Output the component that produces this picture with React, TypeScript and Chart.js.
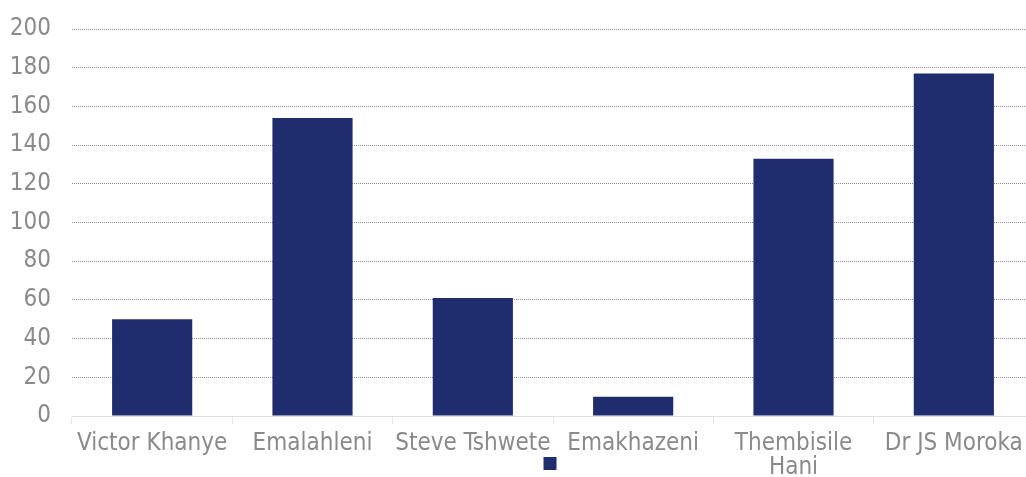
import React, { useEffect, useRef } from "react";
import { Chart, registerables } from "chart.js";

Chart.register(...registerables);

const categories: (string | string[])[] = [
  "Victor Khanye",
  "Emalahleni",
  "Steve Tshwete",
  "Emakhazeni",
  ["Thembisile", "Hani"],
  "Dr JS Moroka",
];
const values: number[] = [50, 154, 61, 10, 133, 177];
const yTicks: number[] = [0, 20, 40, 60, 80, 100, 120, 140, 160, 180, 200];
const seriesLabel = "";

const BAR = "#1F2D6E";
const TEXT = "#8A8A8A";
const FONT = "DejaVu Sans Condensed";
const FS = 24;

export default function App() {
  const ref = useRef<HTMLCanvasElement | null>(null);
  useEffect(() => {
    if (!ref.current) return;
    const chart = new Chart(ref.current, {
      type: "bar",
      data: {
        labels: categories,
        datasets: [
          {
            label: seriesLabel,
            data: values,
            backgroundColor: BAR,
            borderWidth: 0,
            barPercentage: 0.5,
            categoryPercentage: 1,
          },
        ],
      },
      plugins: [
        {
          id: "extendXLabels",
          afterLayout: (c: any) => {
            c.scales.x.bottom = c.height;
          },
        },
      ],
      options: {
        animation: false,
        responsive: false,
        maintainAspectRatio: false,
        layout: { padding: { top: 29, left: 11.2, right: 0, bottom: -3 } },
        plugins: {
          tooltip: { enabled: false },
          legend: {
            position: "bottom",
            fullSize: false,
            labels: {
              boxWidth: 13,
              boxHeight: 13,
              padding: 4,
              color: TEXT,
              font: { family: FONT, size: 12 },
            },
          },
        },
        scales: {
          x: {
            afterFit: (scale: any) => {
              scale.height = 37;
              scale.paddingLeft = 0;
              scale.paddingRight = 0;
              scale.getPadding = () => ({ left: 0, right: 0, top: 0, bottom: 0 });
            },
            grid: {
              display: true,
              drawOnChartArea: false,
              drawTicks: true,
              tickLength: 8,
              color: "#E6E6E6",
              offset: true,
            },
            border: { display: true, color: "#E0E0E0", width: 1 },
            ticks: {
              color: TEXT,
              font: { family: FONT, size: FS, lineHeight: 1.0 },
              padding: 8,
              maxRotation: 0,
              autoSkip: false,
            },
          },
          y: {
            min: 0,
            max: 200,
            afterBuildTicks: (scale: any) => {
              scale.ticks = yTicks.map((v) => ({ value: v }));
            },
            afterFit: (scale: any) => {
              scale.width = 60.8;
              scale.paddingTop = 0;
              scale.paddingBottom = 0;
              scale.getPadding = () => ({ left: 0, right: 0, top: 0, bottom: 0 });
            },
            grid: {
              drawTicks: false,
              color: (ctx: any) =>
                ctx.tick && ctx.tick.value === 0 ? "rgba(0,0,0,0)" : "#8C8C8C",
              lineWidth: 1,
            },
            border: { display: false, dash: [1, 1] },
            ticks: {
              color: TEXT,
              font: { family: FONT, size: FS },
              padding: 21,
            },
          },
        },
      },
    });
    return () => chart.destroy();
  }, []);

  return (
    <div
      style={{
        position: "fixed",
        left: 0,
        top: 0,
        width: 1026,
        height: 477,
        overflow: "hidden",
        background: "#fff",
      }}
    >
      <canvas ref={ref} width={1034} height={477} style={{ display: "block" }} />
    </div>
  );
}
